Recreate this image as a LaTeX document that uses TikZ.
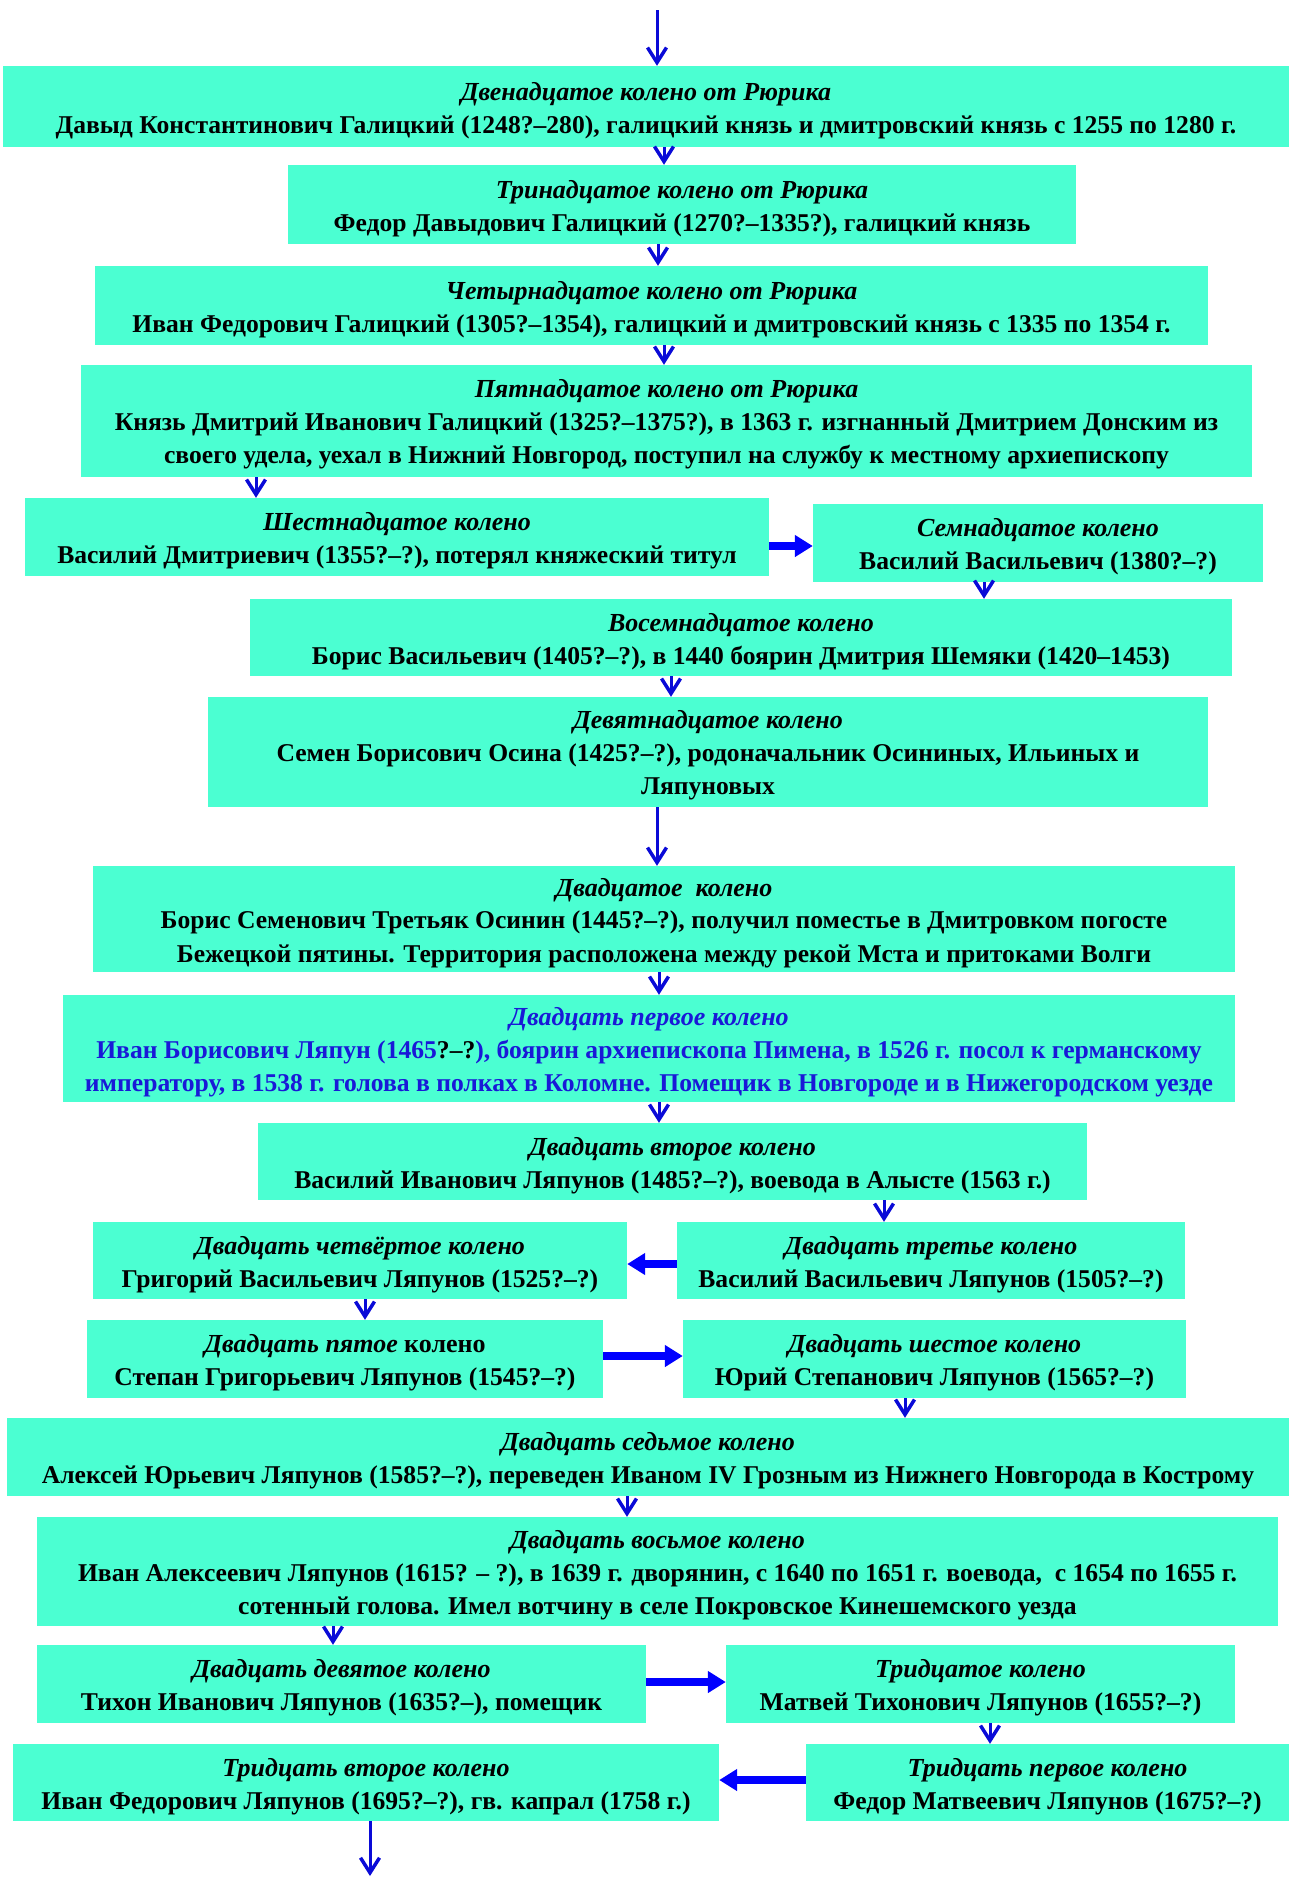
\documentclass[tikz,border=0pt]{standalone}
\usepackage{fontspec}
\setmainfont{Liberation Serif}
\usetikzlibrary{arrows.meta}
\definecolor{boxc}{RGB}{75,255,210}
\definecolor{arrc}{RGB}{10,10,215}
\definecolor{blk}{RGB}{0,0,255}
\definecolor{bluetxt}{RGB}{25,25,215}
\newcommand\hd[1]{\rule{0pt}{25.5pt}{\bfseries\itshape\fontsize{26}{33}\selectfont #1}}
\newcommand\upr[1]{{\bfseries\upshape\fontsize{26}{33}\selectfont #1}}
\begin{document}
\begin{tikzpicture}[x=1pt,y=-1pt,
  box/.style={fill=boxc, inner sep=0pt, align=center, font=\bfseries\fontsize{25.6}{33}\selectfont},
  downarr/.style={draw=arrc, line width=3pt, -{Straight Barb[length=15pt,width=19pt,line width=3.5pt]}},
  blockarr/.style={draw=blk, line width=8pt, -{Triangle[length=18pt,width=21pt]}}]
\useasboundingbox (0,0) rectangle (1289,1879);

\node[box, minimum width=1286, minimum height=81] (b1) at (646,106.5)
  {\hd{Двенадцатое колено от Рюрика}\\Давыд Константинович Галицкий (1248?–280), галицкий князь и дмитровский князь с 1255 по 1280 г.};
\node[box, minimum width=788, minimum height=79] (b2) at (682,204.5)
  {\hd{Тринадцатое колено от Рюрика}\\Федор Давыдович Галицкий (1270?–1335?), галицкий князь};
\node[box, minimum width=1113, minimum height=79] (b3) at (651.5,305.5)
  {\hd{Четырнадцатое колено от Рюрика}\\Иван Федорович Галицкий (1305?–1354), галицкий и дмитровский князь с 1335 по 1354 г.};
\node[box, minimum width=1171, minimum height=112] (b4) at (666.5,421)
  {\hd{Пятнадцатое колено от Рюрика}\\Князь Дмитрий Иванович Галицкий (1325?–1375?), в 1363 г. изгнанный Дмитрием Донским из\\своего удела, уехал в Нижний Новгород, поступил на службу к местному архиепископу};
\node[box, minimum width=744, minimum height=78] (b5) at (397,537)
  {\hd{Шестнадцатое колено}\\Василий Дмитриевич (1355?–?), потерял княжеский титул};
\node[box, minimum width=450, minimum height=78] (b6) at (1038,543)
  {\hd{Семнадцатое колено}\\Василий Васильевич (1380?–?)};
\node[box, minimum width=982, minimum height=77] (b7) at (741,637.5)
  {\hd{Восемнадцатое колено}\\Борис Васильевич (1405?–?), в 1440 боярин Дмитрия Шемяки (1420–1453)};
\node[box, minimum width=1000, minimum height=110] (b8) at (708,752)
  {\hd{Девятнадцатое колено}\\Семен Борисович Осина (1425?–?), родоначальник Осининых, Ильиных и\\Ляпуновых};
\node[box, minimum width=1142, minimum height=106] (b9) at (664,919)
  {\hd{Двадцатое\ \ колено}\\Борис Семенович Третьяк Осинин (1445?–?), получил поместье в Дмитровком погосте\\Бежецкой пятины. Территория расположена между рекой Мста и притоками Волги};
\node[box, minimum width=1172, minimum height=107, text=bluetxt] (b10) at (649,1048.5)
  {\hd{Двадцать первое колено}\\Иван Борисович Ляпун (1465{\color{black}?–?}), боярин архиепископа Пимена, в 1526 г. посол к германскому\\императору, в 1538 г. голова в полках в Коломне. Помещик в Новгороде и в Нижегородском уезде};
\node[box, minimum width=829, minimum height=77] (b11) at (672.5,1161.5)
  {\hd{Двадцать второе колено}\\Василий Иванович Ляпунов (1485?–?), воевода в Алысте (1563 г.)};
\node[box, minimum width=508, minimum height=77] (b12) at (931,1260.5)
  {\hd{Двадцать третье колено}\\Василий Васильевич Ляпунов (1505?–?)};
\node[box, minimum width=534, minimum height=77] (b13) at (360,1260.5)
  {\hd{Двадцать четвёртое колено}\\Григорий Васильевич Ляпунов (1525?–?)};
\node[box, minimum width=516, minimum height=78] (b14) at (345,1359)
  {\hd{Двадцать пятое} \upr{колено}\\Степан Григорьевич Ляпунов (1545?–?)};
\node[box, minimum width=503, minimum height=78] (b15) at (934.5,1359)
  {\hd{Двадцать шестое колено}\\Юрий Степанович Ляпунов (1565?–?)};
\node[box, minimum width=1282, minimum height=78] (b16) at (648,1457)
  {\hd{Двадцать седьмое колено}\\Алексей Юрьевич Ляпунов (1585?–?), переведен Иваном IV Грозным из Нижнего Новгорода в Кострому};
\node[box, minimum width=1241, minimum height=109] (b17) at (657.5,1571.5)
  {\hd{Двадцать восьмое колено}\\Иван Алексеевич Ляпунов (1615? – ?), в 1639 г. дворянин, с 1640 по 1651 г. воевода,\ \ с 1654 по 1655 г.\\сотенный голова. Имел вотчину в селе Покровское Кинешемского уезда};
\node[box, minimum width=609, minimum height=78] (b18) at (341.5,1684)
  {\hd{Двадцать девятое колено}\\Тихон Иванович Ляпунов (1635?–), помещик};
\node[box, minimum width=509, minimum height=78] (b19) at (980.5,1684)
  {\hd{Тридцатое колено}\\Матвей Тихонович Ляпунов (1655?–?)};
\node[box, minimum width=483, minimum height=77] (b20) at (1047.5,1782.5)
  {\hd{Тридцать первое колено}\\Федор Матвеевич Ляпунов (1675?–?)};
\node[box, minimum width=706, minimum height=77] (b21) at (366,1782.5)
  {\hd{Тридцать второе колено}\\Иван Федорович Ляпунов (1695?–?), гв. капрал (1758 г.)};

\coordinate (top) at (657,10);
\coordinate (bot) at (370,1876);

\draw[downarr] (top) -- ([xshift=11pt]b1.north);
\draw[downarr] ([xshift=18pt]b1.south) -- ([xshift=-18pt]b2.north);
\draw[downarr] ([xshift=-24pt]b2.south) -- ([xshift=6.5pt]b3.north);
\draw[downarr] ([xshift=12.5pt]b3.south) -- ([xshift=-2.5pt]b4.north);
\draw[downarr] ([xshift=-410.5pt]b4.south) -- ([xshift=-141pt]b5.north);
\draw[blockarr] ([yshift=-9pt]b5.east) -- ([yshift=-3pt]b6.west);
\draw[downarr] ([xshift=-54pt]b6.south) -- ([xshift=243pt]b7.north);
\draw[downarr] ([xshift=-70pt]b7.south) -- ([xshift=-37pt]b8.north);
\draw[downarr] ([xshift=-51pt]b8.south) -- ([xshift=-7pt]b9.north);
\draw[downarr] ([xshift=-5pt]b9.south) -- ([xshift=10pt]b10.north);
\draw[downarr] ([xshift=10pt]b10.south) -- ([xshift=-13.5pt]b11.north);
\draw[downarr] ([xshift=211.5pt]b11.south) -- ([xshift=-47pt]b12.north);
\draw[blockarr] ([yshift=-3.5pt]b12.west) -- ([yshift=-3.5pt]b13.east);
\draw[downarr] ([xshift=5pt]b13.south) -- ([xshift=20pt]b14.north);
\draw[blockarr] ([yshift=3pt]b14.east) -- ([yshift=3pt]b15.west);
\draw[downarr] ([xshift=-29.5pt]b15.south) -- ([xshift=257pt]b16.north);
\draw[downarr] ([xshift=-21pt]b16.south) -- ([xshift=-30.5pt]b17.north);
\draw[downarr] ([xshift=-324.5pt]b17.south) -- ([xshift=-8.5pt]b18.north);
\draw[blockarr] ([yshift=2pt]b18.east) -- ([yshift=2pt]b19.west);
\draw[downarr] ([xshift=9.5pt]b19.south) -- ([xshift=-57.5pt]b20.north);
\draw[blockarr] ([yshift=2.5pt]b20.west) -- ([yshift=2.5pt]b21.east);
\draw[downarr] ([xshift=4pt]b21.south) -- (bot);
\end{tikzpicture}
\end{document}
